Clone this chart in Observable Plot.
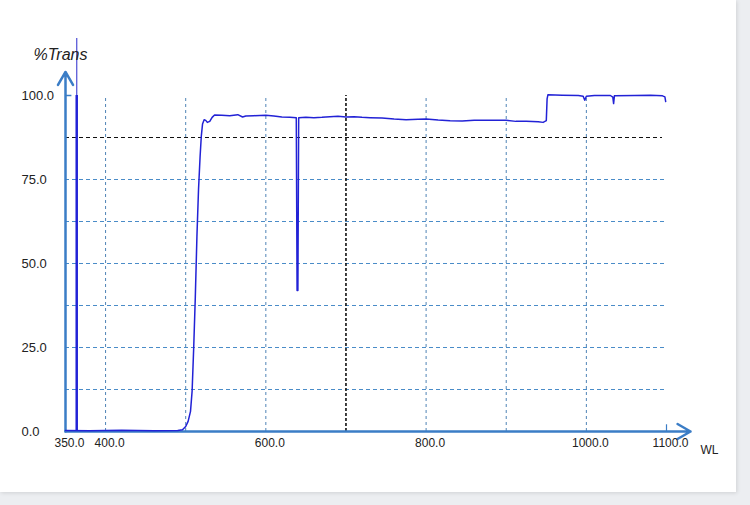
<!DOCTYPE html>
<html>
<head>
<meta charset="utf-8">
<script src="https://cdn.jsdelivr.net/npm/d3@7"></script>
<script src="https://cdn.jsdelivr.net/npm/@observablehq/plot@0.6"></script>
<style>
  html, body { margin: 0; padding: 0; background: #eceef1; }
  #card { position: absolute; left: 0; top: 0; width: 736px; height: 492px; background: #ffffff; box-shadow: 1px 1px 4px rgba(0,0,0,0.12); }
  #chart { position: absolute; left: 0; top: 0; }
  svg { font-family: "Liberation Sans", Arial, sans-serif; }
</style>
</head>
<body>
<div id="card"></div>
<div id="chart"></div>
<script>
// ---- data ----
const wavelength = [350, 380, 420, 460, 490, 496, 500, 503, 506, 508, 510, 512, 514, 516, 518, 519.5, 521, 523, 525, 527, 530, 533, 536,
  545, 555, 565, 571, 575, 585, 600, 610, 620, 630, 638, 639, 640, 641, 650, 660, 670, 680, 690, 700, 710, 720, 730, 745, 760,
  775, 790, 800, 815, 830, 845, 860, 880, 900, 912, 925, 940, 946, 950, 951, 952, 970, 990, 996, 998, 1000, 1010, 1030, 1033,
  1034, 1035, 1060, 1080, 1095, 1098, 1099];
const transmittance = [0.3, 0.2, 0.4, 0.2, 0.3, 0.5, 1.5, 3, 6, 12, 25, 40, 58, 72, 82, 88, 91.5, 92.8, 92.6, 92.0, 92.3, 93.5, 94.2,
  94.1, 94.0, 94.3, 93.6, 93.9, 94.0, 94.1, 93.9, 93.6, 93.5, 93.4, 42, 42, 93.4, 93.5, 93.4, 93.5, 93.7, 93.8, 93.6, 93.7, 93.5, 93.4, 93.3, 93.0,
  92.8, 92.9, 93.0, 92.7, 92.5, 92.4, 92.6, 92.6, 92.6, 92.3, 92.3, 92.2, 92.0, 92.5, 99, 100.2, 100.1, 100.0, 99.8, 98.6, 99.8, 100.0, 100.0, 99.5,
  97.6, 99.9, 100.0, 100.1, 99.9, 99.6, 98.2];

const xDomain = [350, 1100];
const yDomain = [0, 100];
const xTickLabels = [350, 400, 600, 800, 1000, 1100];
const yTickLabels = [0, 25, 50, 75, 100];
const xGrid = [400, 500, 600, 800, 900, 1000];
const yGrid = [12.5, 25, 37.5, 50, 62.5, 75];
const refWavelength = [700];   // black dashed vertical cursor
const refTrans = [87.5];       // black dashed horizontal cursor
const markerWavelength = [364]; // blue vertical marker
const axisEnds = {x: 1130, y: 107};

const rows = wavelength.map((w, i) => ({w, t: transmittance[i]}));

const axisColor = "#3b7dc6";
const hGridColor = "#4a8cc8";
const vGridColor = "#4f84b6";
const lineColor = "#2222d6";

const chart = Plot.plot({
  width: 750,
  height: 505,
  marginLeft: 65,
  marginRight: 84,
  marginTop: 95,
  marginBottom: 74,
  style: {background: "transparent", fontFamily: "Liberation Sans, Arial, sans-serif"},
  x: {domain: xDomain, axis: null},
  y: {domain: yDomain, axis: null},
  marks: [
    // grid
    Plot.ruleY(yGrid, {x1: xDomain[0], x2: xDomain[1], stroke: hGridColor, strokeWidth: 1, strokeDasharray: "4,3"}),
    Plot.ruleX(xGrid, {y1: yDomain[0], y2: yDomain[1], stroke: vGridColor, strokeWidth: 1, strokeDasharray: "3,3"}),
    Plot.ruleY(refTrans, {x1: xDomain[0], x2: 1095, stroke: "#111", strokeWidth: 1.2, strokeDasharray: "4,3"}),
    Plot.ruleX(refWavelength, {y1: yDomain[0], y2: yDomain[1], stroke: "#111", strokeWidth: 1.6, strokeDasharray: "3,2"}),
    // axes with arrows
    Plot.arrow([0], {x1: xDomain[0], y1: yDomain[0], x2: axisEnds.x, y2: yDomain[0], stroke: axisColor, strokeWidth: 2.5, headLength: 9, clip: false}),
    Plot.arrow([0], {x1: xDomain[0], y1: yDomain[0], x2: xDomain[0], y2: axisEnds.y, stroke: axisColor, strokeWidth: 2.5, headLength: 9, clip: false}),
    Plot.ruleY([100], {x1: xDomain[0], x2: 358, stroke: axisColor, strokeWidth: 1.5}),
    Plot.ruleX([1100], {y1: 0, y2: 2, stroke: axisColor, strokeWidth: 1.2}),
    // marker
    Plot.ruleX(markerWavelength, {y1: 0, y2: 100, stroke: lineColor, strokeWidth: 2.5}),
    Plot.ruleX(markerWavelength, {y1: 100, y2: 117, stroke: "#5a5ad8", strokeWidth: 1.3}),
    // spectrum
    Plot.line(rows, {x: "w", y: "t", stroke: lineColor, strokeWidth: 1.5, curve: "linear"}),
    // tick labels
    Plot.text(yTickLabels, {y: d => d, text: d => d.toFixed(1), frameAnchor: "left", dx: -44, textAnchor: "start", fontSize: 13, fill: "#222"}),
    Plot.text(xTickLabels, {x: d => d, text: d => d.toFixed(1), frameAnchor: "bottom", dx: 4, dy: 12, lineAnchor: "middle", fontSize: 12, fill: "#222"}),
    // axis titles
    Plot.text(["%Trans"], {frameAnchor: "top-left", text: d => d, dx: -32, dy: -41, textAnchor: "start", lineAnchor: "middle", fontSize: 16, fontStyle: "italic", fill: "#222"}),
    Plot.text(["WL"], {frameAnchor: "bottom-right", text: d => d, dx: 34, dy: 19, textAnchor: "start", lineAnchor: "middle", fontSize: 12, fill: "#222"})
  ]
});
document.getElementById("chart").appendChild(chart);
</script>
</body>
</html>
